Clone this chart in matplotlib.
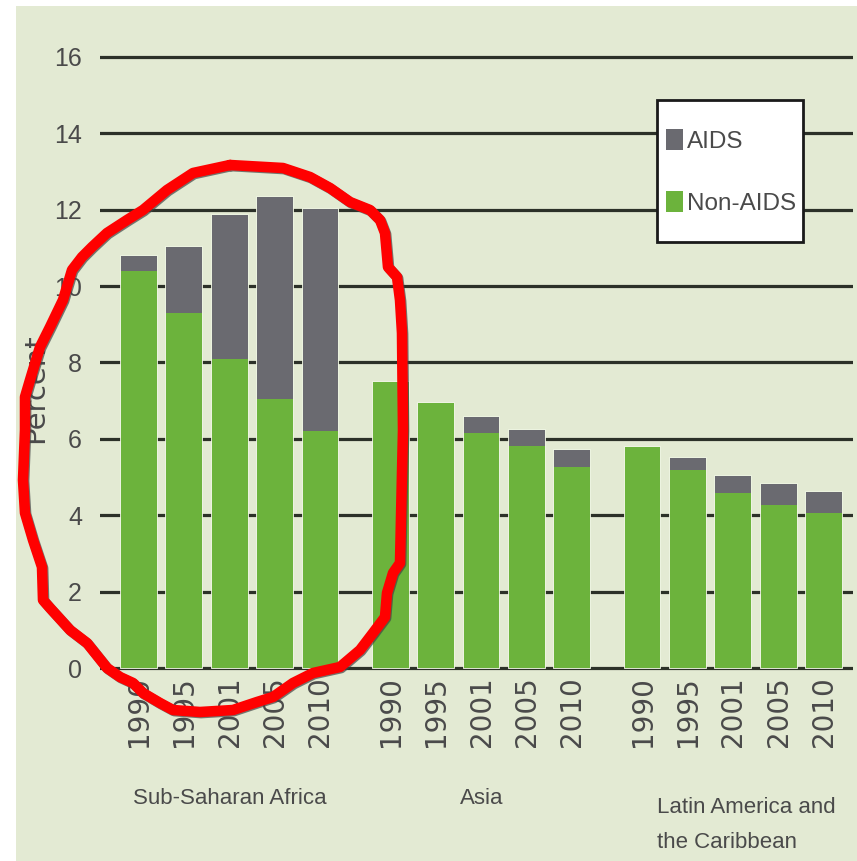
import matplotlib
matplotlib.use("Agg")
import matplotlib.pyplot as plt
import matplotlib.patheffects as pe
import matplotlib.transforms as mtransforms
from matplotlib.patches import Rectangle, Patch
from matplotlib.lines import Line2D
from matplotlib import font_manager

# ---------------- data ----------------
regions = ["Sub-Saharan Africa", "Asia", "Latin America and\nthe Caribbean"]
years = ["1990", "1995", "2001", "2005", "2010"]
non_aids_ssa = [10.4, 9.3, 8.1, 7.05, 6.2]
aids_ssa = [0.4, 1.72, 3.76, 5.28, 5.82]
non_aids_asia = [7.49, 6.94, 6.16, 5.81, 5.27]
aids_asia = [0.0, 0.0, 0.41, 0.42, 0.44]
non_aids_lac = [5.78, 5.18, 4.57, 4.27, 4.05]
aids_lac = [0.0, 0.31, 0.46, 0.55, 0.57]
y_ticks = [0, 2, 4, 6, 8, 10, 12, 14, 16]
series_labels = ["AIDS", "Non-AIDS"]

non_aids = [non_aids_ssa, non_aids_asia, non_aids_lac]
aids = [aids_ssa, aids_asia, aids_lac]

# ---------------- style ----------------
W, H = 857, 861
BG = "#e3eAd3"
GREEN = "#6cb33c"
GREY = "#6a6a70"
GRID = "#2c3128"
TXT = "#4a4a4a"

names = {f.name for f in font_manager.fontManager.ttflist}
NARROW = "Liberation Sans Narrow" if "Liberation Sans Narrow" in names else "Liberation Sans"
WIDE = "DejaVu Sans"

fig = plt.figure(figsize=(W / 100, H / 100), dpi=100, facecolor="white")

# page background (photo of a printed chart)
fig.patches.append(Rectangle((16 / W, 0), 1 - 16 / W, 1 - 6 / H,
                             transform=fig.transFigure, facecolor=BG,
                             edgecolor="none", zorder=-10))

# axes placement (pixels)
ax_left_px, ax_right_px = 100, 853
px_per_unit_y = 38.19
y_lo, y_hi = -0.12, 16.12
zero_px = 668
bottom_px = zero_px - y_lo * px_per_unit_y
top_px = zero_px - y_hi * px_per_unit_y
ax = fig.add_axes([ax_left_px / W, 1 - bottom_px / H,
                   (ax_right_px - ax_left_px) / W, (bottom_px - top_px) / H])
ax.set_facecolor("none")
ax.set_zorder(1)

group_gap = 0.55
bar_w = 0.79
positions = []
for g in range(len(regions)):
    positions.append([g * (len(years) + group_gap) + i for i in range(len(years))])

first_c, last_c = 139, 824
unit_x = (last_c - first_c) / positions[-1][-1]
ax.set_xlim((ax_left_px - first_c) / unit_x, (ax_right_px - first_c) / unit_x)
ax.set_ylim(y_lo, y_hi)

for yt in y_ticks:
    ax.axhline(yt, color=GRID, lw=2.3, zorder=1)

for g in range(len(regions)):
    ax.bar(positions[g], non_aids[g], width=bar_w, color=GREEN,
           edgecolor="#eef4e2", linewidth=1.3, zorder=2)
    ax.bar(positions[g], aids[g], width=bar_w, bottom=non_aids[g], color=GREY,
           edgecolor="#eef4e2", linewidth=1.3, zorder=2)
    ax.bar(positions[g], non_aids[g], width=bar_w, color=GREEN, linewidth=0, zorder=3)
    ax.bar(positions[g], aids[g], width=bar_w, bottom=non_aids[g], color=GREY,
           linewidth=0, zorder=3)

for s in ax.spines.values():
    s.set_visible(False)

ax.set_yticks(y_ticks)
ax.set_yticklabels([str(v) for v in y_ticks], fontsize=18, family=NARROW, color=TXT)
ax.tick_params(axis="y", length=0, pad=13)

all_pos = [p for grp in positions for p in grp]
ax.set_xticks(all_pos)
ax.set_xticklabels(years * len(regions), rotation=90, fontsize=20, family=WIDE,
                   color=TXT)
ax.tick_params(axis="x", length=0, pad=2.5)

# group labels
label_y_px = [788, 788, 797]
label_dx = [0.0, 0.0, 0.28]
blend = mtransforms.blended_transform_factory(ax.transData, fig.transFigure)
for g, name in enumerate(regions):
    cx = (positions[g][0] + positions[g][-1]) / 2 + label_dx[g]
    ax.text(cx, 1 - label_y_px[g] / H, name, transform=blend,
            ha="center", va="top", multialignment="left", fontsize=16,
            family=NARROW, color=TXT, linespacing=1.9)

# y-axis label
fig.text(35 / W, 1 - 388 / H, "Percent", rotation=90, ha="center", va="center",
         fontsize=21, family=WIDE, color=TXT)

# legend box + entries
fig.patches.append(Rectangle((657 / W, 1 - 242 / H), (803 - 657) / W, (242 - 100) / H,
                             transform=fig.transFigure, facecolor="white",
                             edgecolor="#1a1a1a", linewidth=2.0, zorder=4))
handles = [Patch(facecolor=GREY, edgecolor="none"),
           Patch(facecolor=GREEN, edgecolor="none")]
leg = fig.legend(handles, series_labels, loc="upper left",
                 bbox_to_anchor=(666 / W, 1 - 129 / H), bbox_transform=fig.transFigure,
                 prop={"family": NARROW, "size": 17.5}, frameon=False,
                 handlelength=0.68, handleheight=0.98, handletextpad=0.2,
                 borderpad=0, labelspacing=1.55, borderaxespad=0)
for t in leg.get_texts():
    t.set_color(TXT)
leg.set_zorder(6)

# hand-drawn red annotation loop (figure pixel coordinates)
loop_px = [(230, 165), (283, 168), (310, 177), (330, 188), (350, 202), (370, 210),
           (380, 220), (385, 233), (388, 267), (397, 277), (400, 300), (402, 333),
           (403, 430), (402, 473), (400, 563), (393, 573), (387, 593), (385, 617),
           (373, 633), (360, 650), (340, 667), (313, 673), (293, 683), (273, 697),
           (257, 702), (233, 710), (200, 712), (173, 710), (160, 703), (143, 693),
           (133, 683), (120, 677), (107, 668), (87, 643), (70, 630), (50, 608),
           (43, 600), (42, 567), (33, 540), (25, 513), (23, 480), (25, 430),
           (25, 397), (30, 380), (40, 347), (50, 327), (63, 300), (72, 270),
           (82, 257), (92, 247), (107, 233), (127, 220), (143, 210), (167, 190),
           (193, 173), (230, 165)]
lx = [p[0] / W for p in loop_px]
ly = [1 - p[1] / H for p in loop_px]
loop = Line2D(lx, ly, transform=fig.transFigure, color="#ff0000", lw=7.6,
              solid_joinstyle="round", solid_capstyle="round", zorder=20,
              path_effects=[pe.SimpleLineShadow(offset=(0.8, -0.8), shadow_color="#444444",
                                                alpha=0.7),
                            pe.Normal()])
fig.lines.append(loop)

fig.savefig("out.png", dpi=100, facecolor="white")
